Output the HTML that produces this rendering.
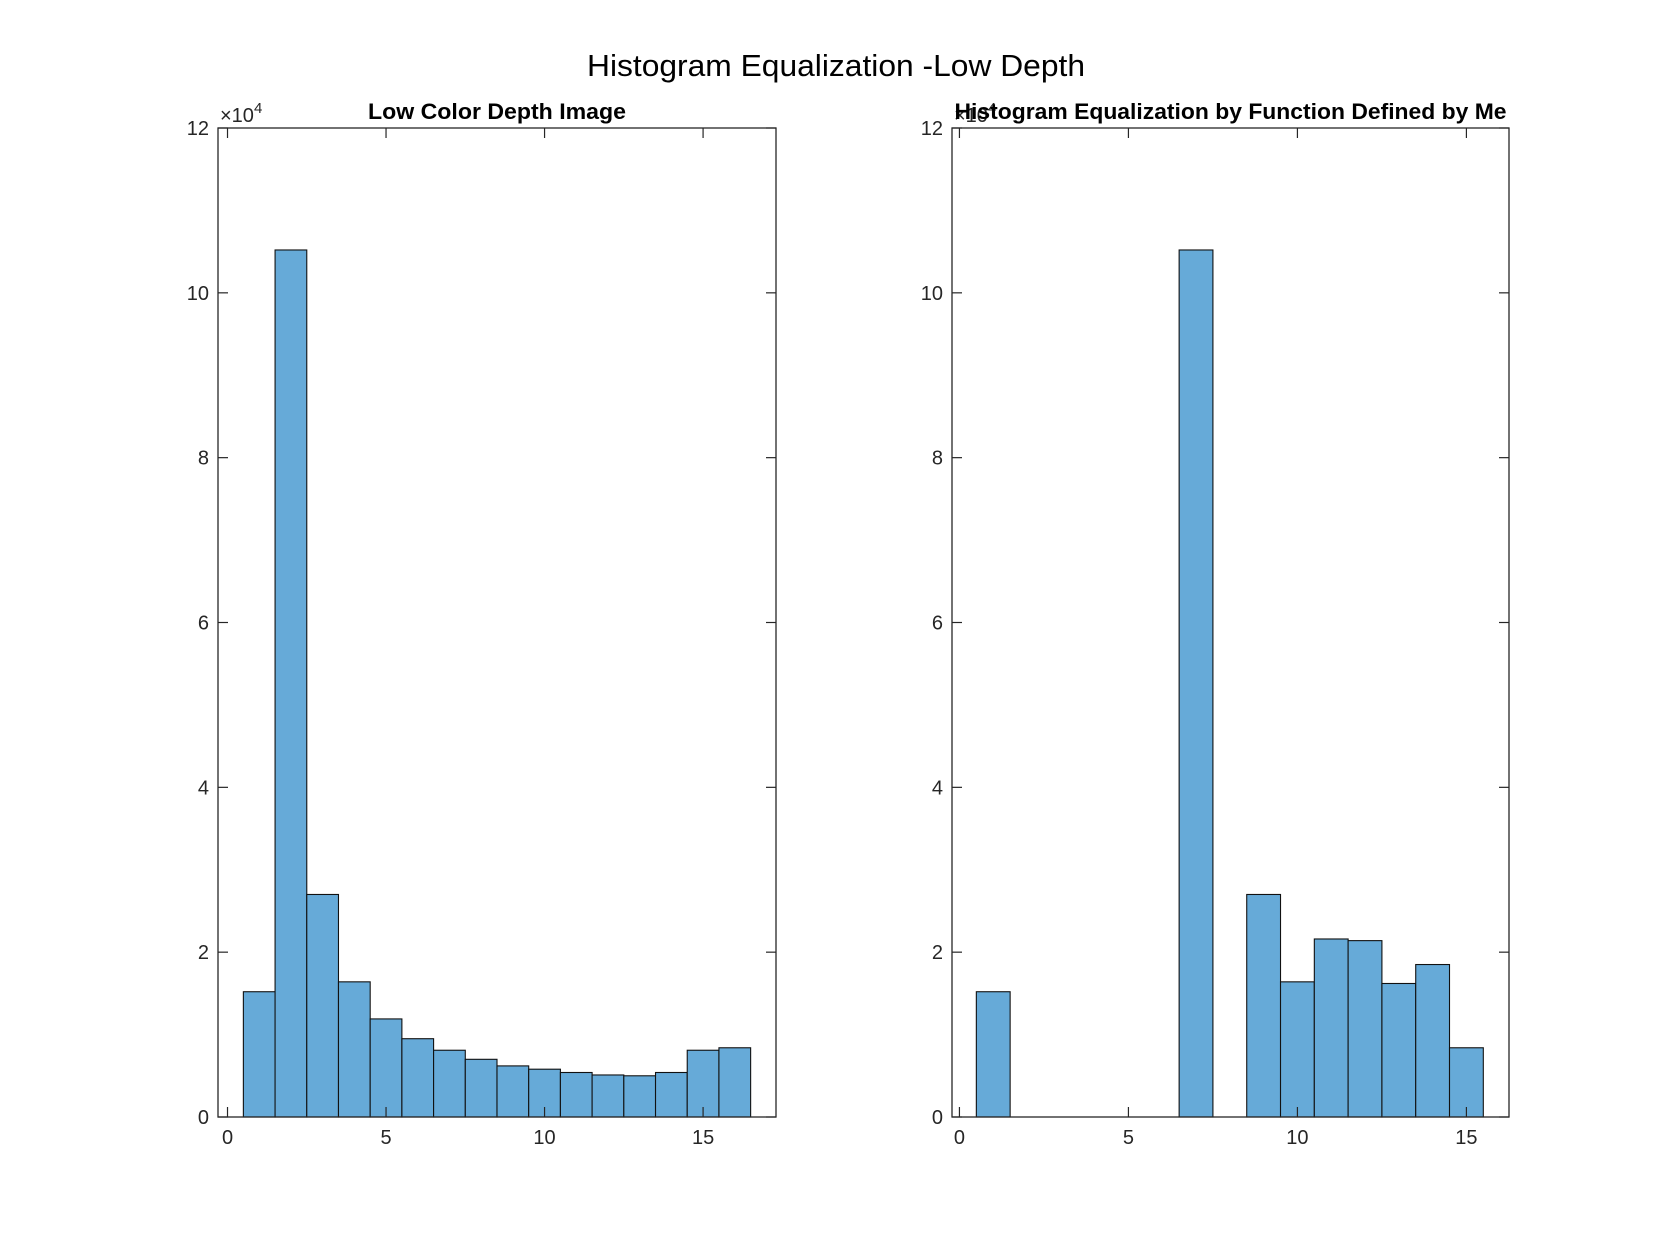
<!DOCTYPE html>
<html><head><meta charset="utf-8"><style>
html,body{margin:0;padding:0;background:#fff;}
svg{display:block;font-family:"Liberation Sans",Arial,sans-serif;}
</style></head><body>
<svg id="fig" width="1667" height="1250" viewBox="0 0 1667 1250">
<rect width="1667" height="1250" fill="#fff"/>
<text x="836" y="76" font-size="31" text-anchor="middle" fill="#000" textLength="498" lengthAdjust="spacingAndGlyphs">Histogram Equalization -Low Depth</text>
<g id="ax1"></g><g id="ax2"></g>
</svg>
<script>
const leftBinCenters=[1,2,3,4,5,6,7,8,9,10,11,12,13,14,15,16];
const leftCounts=[15200,105200,27000,16400,11900,9500,8100,7000,6200,5800,5400,5100,5000,5400,8100,8400];
const rightBinCenters=[1,2,3,4,5,6,7,8,9,10,11,12,13,14,15];
const rightCounts=[15200,0,0,0,0,0,105200,0,27000,16400,21600,21400,16200,18500,8400];
const xTicks=[0,5,10,15];
const yTicks=[0,2,4,6,8,10,12];
const NS="http://www.w3.org/2000/svg";
function mk(tag,attrs,parent){const e=document.createElementNS(NS,tag);for(const k in attrs)e.setAttribute(k,attrs[k]);parent.appendChild(e);return e;}
function drawAxes(gid,box,xmin,xmax,centers,counts,title,titleLen){
  const g=document.getElementById(gid);
  const X=v=>box.l+(v-xmin)/(xmax-xmin)*(box.r-box.l);
  const Y=v=>box.b-v/120000*(box.b-box.t);
  centers.forEach((c,i)=>{
    if(counts[i]<=0)return;
    const r=mk('rect',{x:X(c-0.5),y:Y(counts[i]),width:X(c+0.5)-X(c-0.5),height:Y(0)-Y(counts[i]),fill:'#66aad8',stroke:'#111','stroke-width':1.1},g);
    
    
  });
  mk('rect',{x:box.l,y:box.t,width:box.r-box.l,height:box.b-box.t,fill:'none',stroke:'#262626','stroke-width':1.3},g);
  xTicks.forEach(t=>{
    const x=X(t);
    mk('line',{x1:x,y1:box.b,x2:x,y2:box.b-10,stroke:'#262626','stroke-width':1.2},g);
    mk('line',{x1:x,y1:box.t,x2:x,y2:box.t+10,stroke:'#262626','stroke-width':1.2},g);
    const tx=mk('text',{x:x,y:box.b+27,'font-size':20,'text-anchor':'middle',fill:'#262626'},g);
    tx.textContent=t;
    
    
  });
  yTicks.forEach(t=>{
    const y=Y(t*10000);
    mk('line',{x1:box.l,y1:y,x2:box.l+10,y2:y,stroke:'#262626','stroke-width':1.2},g);
    mk('line',{x1:box.r,y1:y,x2:box.r-10,y2:y,stroke:'#262626','stroke-width':1.2},g);
    const ty=mk('text',{x:box.l-9,y:y+7,'font-size':20,'text-anchor':'end',fill:'#262626'},g);
    ty.textContent=t;
    
    
  });
  const ex=mk('text',{x:box.l+2,y:box.t-6,'font-size':20,fill:'#262626'},g);
  ex.innerHTML='\u00d710<tspan dy="-9" font-size="15">4</tspan>';
  
  
  const tt=mk('text',{x:(box.l+box.r)/2,y:box.t-9,'font-size':22,'font-weight':'bold','text-anchor':'middle',fill:'#000'},g);
  if(titleLen){tt.setAttribute('textLength',titleLen);tt.setAttribute('lengthAdjust','spacingAndGlyphs');}
  tt.textContent=title;
  
  
}
drawAxes('ax1',{l:218,r:776,t:128,b:1117},-0.3,17.3,leftBinCenters,leftCounts,'Low Color Depth Image',258);
drawAxes('ax2',{l:952,r:1509,t:128,b:1117},-0.22,16.26,rightBinCenters,rightCounts,'Histogram Equalization by Function Defined by Me',552);
</script>
</body></html>
